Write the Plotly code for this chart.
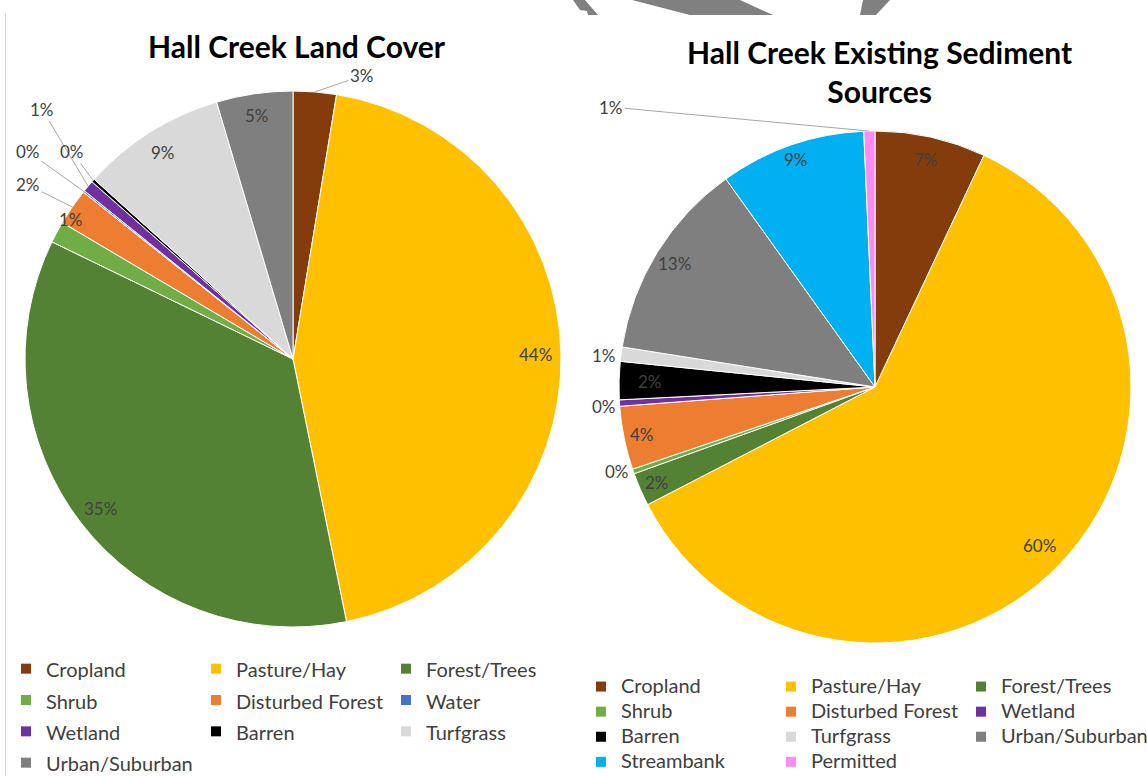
import math
import plotly.graph_objects as go

# ---- data -------------------------------------------------------------
land_labels = ["Cropland", "Pasture/Hay", "Forest/Trees", "Shrub", "Disturbed Forest",
               "Water", "Wetland", "Barren", "Turfgrass", "Urban/Suburban"]
land_pct = [2.6, 44.2, 35.4, 1.3, 2.2, 0.1, 0.7, 0.2, 8.7, 4.6]

sed_labels = ["Cropland", "Pasture/Hay", "Forest/Trees", "Shrub", "Disturbed Forest",
              "Wetland", "Barren", "Turfgrass", "Urban/Suburban", "Streambank", "Permitted"]
sed_pct = [7.0, 60.4, 2.1, 0.3, 4.0, 0.4, 2.4, 0.9, 12.6, 9.2, 0.7]

# ---- styling ----------------------------------------------------------
palette = {
    "Cropland": "#843C0C", "Pasture/Hay": "#FFC000", "Forest/Trees": "#548235",
    "Shrub": "#70AD47", "Disturbed Forest": "#ED7D31", "Water": "#4472C4",
    "Wetland": "#7030A0", "Barren": "#000000", "Turfgrass": "#D9D9D9",
    "Urban/Suburban": "#7F7F7F", "Streambank": "#00B0F0", "Permitted": "#FF8BF2",
}

# label placement per slice:
#   ("in", f)            -> inside, at fraction f of the radius on the slice bisector
#   ("out", dx, dy, ln)  -> offset (px) from the slice's outer edge, ln = leader line
land_label_pos = [
    ("out", 47, -16, True), ("in", 0.905), ("in", 0.91), ("out", 14, -13, False),
    ("out", -44, -22, True), ("out", -56, -40, True), ("out", -46, -77, True),
    ("out", -21, -29, True), ("in", 0.91), ("in", 0.92),
]
sed_label_pos = [
    ("in", 0.91), ("in", 0.89), ("in", 0.93), ("out", -16, 0, False), ("in", 0.93),
    ("out", -16, 3, False), ("in", 0.88), ("out", -17, 1, False), ("in", 0.92),
    ("in", 0.94), ("out", -258, -24, True),
]

W, H = 1147, 776
FONT = "Lato"
TXT = "#404040"
LEADER = "#A6A6A6"

# pie boxes in pixels: (left, right, top, bottom)
land_box = (25, 561, 91, 627)
sed_box = (619, 1131, 131, 643)


def px(x):
    return x / W


def py(y):
    return 1 - y / H


fig = go.Figure()
annotations = []


def add_pie(labels, values, box, label_pos):
    x0, x1, y0, y1 = box
    fig.add_trace(go.Pie(
        labels=labels, values=values,
        sort=False, direction="clockwise", rotation=0,
        marker=dict(colors=[palette[l] for l in labels], line=dict(color="white", width=1)),
        textinfo="none",
        domain=dict(x=[px(x0), px(x1)], y=[py(y1), py(y0)]),
        showlegend=False, hoverinfo="label+percent",
    ))
    # percentage labels along each slice's bisector
    cx, cy = (x0 + x1) / 2, (y0 + y1) / 2
    r = min(x1 - x0, y1 - y0) / 2
    total = sum(values)
    cum = 0.0
    for v, pos in zip(values, label_pos):
        ang = (cum + v / 2) / total * 2 * math.pi
        cum += v
        s, c = math.sin(ang), math.cos(ang)
        text = f"{round(v / total * 100):.0f}%"
        base = dict(text=text, xref="paper", yref="paper", xanchor="center", yanchor="middle",
                    font=dict(family=FONT, size=17, color=TXT))
        if pos[0] == "in":
            f = pos[1]
            annotations.append(dict(base, x=px(cx + f * r * s), y=py(cy - f * r * c),
                                    showarrow=False))
        else:
            _, dx, dy, leader = pos
            ex, ey = cx + r * s, cy - r * c
            if leader:
                annotations.append(dict(base, x=px(ex), y=py(ey), ax=dx, ay=dy,
                                        showarrow=True, arrowhead=0, arrowwidth=1,
                                        arrowcolor=LEADER, standoff=0))
            else:
                annotations.append(dict(base, x=px(ex + dx), y=py(ey + dy), showarrow=False))


add_pie(land_labels, land_pct, land_box, land_label_pos)
add_pie(sed_labels, sed_pct, sed_box, sed_label_pos)


# legend entries: three columns, filled row by row
def add_legend_entries(labels, legend_id, textsize):
    for i, lab in enumerate(labels):
        fig.add_trace(go.Scatter(
            x=[None], y=[None], mode="markers",
            marker=dict(symbol="square", size=10, color=palette[lab]),
            name=f'<span style="font-size:{textsize}px">{lab}</span>',
            legend=legend_id, legendgroup=f"{legend_id}-col{i % 3}",
            showlegend=True, hoverinfo="skip",
        ))


add_legend_entries(land_labels, "legend", 20)
add_legend_entries(sed_labels, "legend2", 20)

legend_common = dict(
    orientation="h", traceorder="grouped", xanchor="left", yanchor="top",
    entrywidth=145, entrywidthmode="pixels", bgcolor="rgba(0,0,0,0)",
    itemclick=False, itemdoubleclick=False,
)

# decorative grey shapes along the top edge and the chart frame line
deco = [
    [(573, 0), (585, 0), (598, 15), (588, 15), (587, 11), (580, 10)],
    [(632, 0), (740, 0), (773, 15), (690, 15)],
    [(863, 0), (890, 0), (876, 15), (860, 15)],
]
shapes = []
for poly in deco:
    path = "M " + " L ".join(f"{px(a)},{py(b)}" for a, b in poly) + " Z"
    shapes.append(dict(type="path", path=path, xref="paper", yref="paper",
                       fillcolor="#808080", line=dict(width=0)))
shapes.append(dict(type="line", xref="paper", yref="paper",
                   x0=px(5.5), x1=px(5.5), y0=py(13), y1=py(776),
                   line=dict(color="#D9D9D9", width=1)))

title_font = dict(family=FONT, size=30, color="#000000", weight="bold")
annotations += [
    dict(text="Hall Creek Land Cover", x=px(297), y=py(46), xref="paper", yref="paper",
         showarrow=False, font=title_font, xanchor="center", yanchor="middle"),
    dict(text="Hall Creek Existing Sediment<br>Sources", x=px(879), y=py(71),
         xref="paper", yref="paper", showarrow=False, font=title_font,
         xanchor="center", yanchor="middle", align="center"),
]

fig.update_layout(
    width=W, height=H, autosize=False,
    margin=dict(l=0, r=0, t=0, b=0, autoexpand=False),
    paper_bgcolor="white", plot_bgcolor="white", template="none",
    xaxis=dict(visible=False), yaxis=dict(visible=False),
    font=dict(family=FONT, color=TXT),
    legend=dict(legend_common, x=px(6), y=py(648), font=dict(family=FONT, size=21.8, color=TXT)),
    legend2=dict(legend_common, x=px(581), y=py(669), font=dict(family=FONT, size=17, color=TXT)),
    shapes=shapes, annotations=annotations,
)

fig.write_html("out.html")
